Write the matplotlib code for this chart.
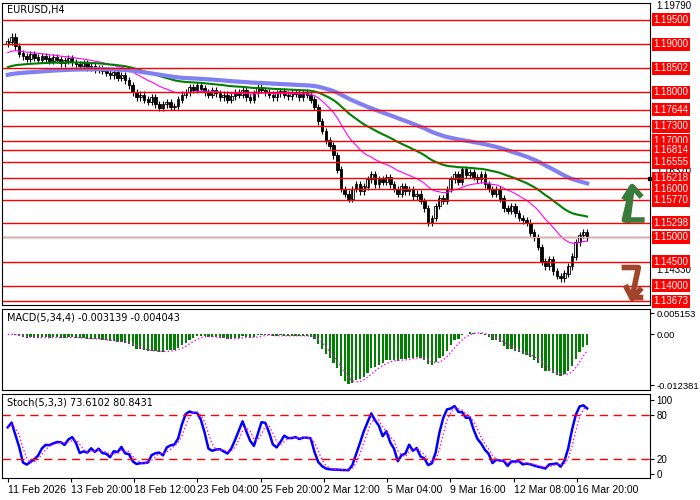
import matplotlib
matplotlib.use("Agg")
import matplotlib.pyplot as plt
import numpy as np
import pandas as pd

closes = [1.1905,1.1915,1.1895,1.1880,1.1875,1.1870,1.1878,1.1872,1.1868,1.1874,
1.1870,1.1865,1.1872,1.1868,1.1860,1.1866,1.1870,1.1862,1.1858,1.1855,
1.1860,1.1852,1.1855,1.1848,1.1850,1.1845,1.1840,1.1835,1.1842,1.1830,
1.1835,1.1825,1.1815,1.1800,1.1790,1.1795,1.1785,1.1780,1.1790,1.1775,
1.1768,1.1775,1.1780,1.1770,1.1772,1.1785,1.1795,1.1800,1.1810,1.1805,
1.1815,1.1808,1.1800,1.1795,1.1805,1.1798,1.1790,1.1795,1.1785,1.1792,
1.1800,1.1795,1.1805,1.1790,1.1785,1.1798,1.1810,1.1805,1.1800,1.1795,
1.1790,1.1798,1.1802,1.1795,1.1792,1.1800,1.1797,1.1790,1.1800,1.1795,
1.1785,1.1770,1.1740,1.1720,1.1700,1.1690,1.1670,1.1640,1.1600,1.1590,
1.1580,1.1600,1.1610,1.1595,1.1605,1.1620,1.1630,1.1610,1.1620,1.1615,
1.1625,1.1610,1.1600,1.1590,1.1605,1.1595,1.1600,1.1585,1.1590,1.1575,
1.1560,1.1530,1.1540,1.1565,1.1580,1.1575,1.1600,1.1620,1.1630,1.1615,
1.1640,1.1630,1.1635,1.1625,1.1620,1.1630,1.1610,1.1600,1.1590,1.1600,
1.1580,1.1560,1.1555,1.1565,1.1550,1.1540,1.1535,1.1530,1.1510,1.1500,
1.1480,1.1450,1.1440,1.1455,1.1430,1.1420,1.1415,1.1425,1.1440,1.1460,
1.1490,1.1505,1.1510,1.1500]
ma_seed = {"fast": 1.1880, "mid": 1.1850, "slow": 1.1835}
ma_span = {"fast": 21, "mid": 50, "slow": 100}
levels = [1.19500,1.19000,1.18502,1.18000,1.17644,1.17300,1.17000,1.16814,1.16555,
          1.16218,1.16000,1.15770,1.15298,1.15000,1.14500,1.14000,1.13673]
grey_ticks = [1.19790, 1.16370, 1.14330]
date_labels = ["11 Feb 2026","13 Feb 20:00","18 Feb 12:00","23 Feb 04:00","25 Feb 20:00",
               "2 Mar 12:00","5 Mar 04:00","9 Mar 16:00","12 Mar 08:00","16 Mar 20:00"]
macd_title = "MACD(5,34,4) -0.003139 -0.004043"
stoch_title = "Stoch(5,3,3) 73.6102 80.8431"

LF = 'Liberation Sans'
c = pd.Series(closes)
o = c.shift(1).fillna(c.iloc[0] - 0.0005)
hi = np.maximum(o, c) + 0.0007
lo = np.minimum(o, c) - 0.0007
n = len(c); x = np.arange(n)
XL = (-1.5, 169.5)
AXL, AXW = 0.003, 0.925

def ema(key):
    s = pd.concat([pd.Series([ma_seed[key]]), c], ignore_index=True)
    return s.ewm(span=ma_span[key], adjust=False).mean().values[1:]

fig = plt.figure(figsize=(7, 5), dpi=100)
ax = fig.add_axes([AXL, 0.39, AXW, 0.604])
ax.vlines(x, lo, hi, color='black', lw=0.8)
up = c >= o
ax.bar(x[up], (c - o)[up].abs() + 0.00005, bottom=o[up], width=0.7, color='white', edgecolor='black', lw=0.6)
ax.bar(x[~up], (c - o)[~up].abs() + 0.00005, bottom=c[~up], width=0.7, color='black', edgecolor='black', lw=0.6)
ax.plot(x, ema("fast"), color='magenta', lw=0.8)
ax.plot(x, ema("mid"), color='green', lw=1.5)
ax.plot(x, ema("slow"), color='#8080f0', lw=3)
for lv in levels:
    ax.axhline(lv, color='red', lw=1)
ax.axhline(1.1500, color='#bbbbbb', lw=0.8)
ax.set_xlim(*XL); ax.set_ylim(1.1360, 1.1985)
ax.set_xticks([]); ax.set_yticks([])
ax.text(0.008, 0.995, "EURUSD,H4", transform=ax.transAxes, va='top', fontsize=7)
for lv in grey_ticks:
    ax.annotate(f"{lv:.5f}", (1, lv), xycoords=('axes fraction', 'data'), xytext=(5, 0), family=LF,
                textcoords='offset points', va='center', fontsize=7, zorder=1, annotation_clip=False)
for lv in levels:
    ax.annotate(f"{lv:.5f}", (1, lv), xycoords=('axes fraction', 'data'), xytext=(3, 0), family=LF,
                textcoords='offset points', va='center', fontsize=7, color='white', zorder=5,
                bbox=dict(boxstyle='square,pad=0.15', fc='red', ec='none'), annotation_clip=False)
ax.plot([1.0, 1.01], [0.417, 0.417], transform=ax.transAxes, color='black', lw=3, clip_on=False)

# arrows
g = '#3a7a3a'; b = '#a0442a'
fig.lines.append(plt.Line2D([0.897, 0.903, 0.892, 0.917], [0.56, 0.625, 0.56, 0.56], color=g, lw=4, transform=fig.transFigure))
fig.lines.append(plt.Line2D([0.893, 0.903, 0.914], [0.605, 0.627, 0.61], color=g, lw=4, transform=fig.transFigure))
fig.lines.append(plt.Line2D([0.892, 0.912, 0.903, 0.915], [0.465, 0.465, 0.405, 0.405], color=b, lw=4, transform=fig.transFigure))
fig.lines.append(plt.Line2D([0.895, 0.903, 0.914], [0.425, 0.403, 0.42], color=b, lw=4, transform=fig.transFigure))

# MACD
macd = c.ewm(span=5).mean() - c.ewm(span=34).mean()
sig = macd.rolling(4, min_periods=1).mean()
axm = fig.add_axes([AXL, 0.22, AXW, 0.162])
axm.bar(x, macd, width=0.6, color='green')
axm.plot(x, sig, color='magenta', ls=':', lw=1)
axm.set_xlim(*XL); axm.set_ylim(-0.0135, 0.0062)
axm.set_xticks([]); axm.yaxis.tick_right()
axm.set_yticks([0.005153, 0.0, -0.012381])
axm.set_yticklabels(["0.005153", "0.00", "-0.012381"], fontsize=6.8, family=LF)
axm.tick_params(axis='y', length=3, pad=2)
axm.text(0.008, 0.96, macd_title, transform=axm.transAxes, va='top', fontsize=7)

# Stoch
hh = pd.Series(hi).rolling(5, min_periods=1).max(); ll = pd.Series(lo).rolling(5, min_periods=1).min()
k = (100 * (c - ll) / (hh - ll)).rolling(3, min_periods=1).mean()
d = k.rolling(3, min_periods=1).mean()
axs = fig.add_axes([AXL, 0.044, AXW, 0.168])
axs.plot(x, k, color='blue', lw=1.8)
axs.plot(x, d, color='magenta', ls=':', lw=1)
for lv in (80, 20):
    axs.axhline(lv, color='red', ls=(0, (6, 4)), lw=1)
axs.set_xlim(*XL); axs.set_ylim(-5, 108)
axs.yaxis.tick_right(); axs.set_yticks([100, 80, 20, 0])
axs.set_yticklabels(["100", "80", "20", "0"], fontsize=7, family=LF)
axs.tick_params(axis='y', length=3, pad=2)
axs.text(0.008, 0.96, stoch_title, transform=axs.transAxes, va='top', fontsize=7)
axs.set_xticks(np.arange(0, 154, 16.7)[:len(date_labels)])
axs.set_xticklabels(date_labels, fontsize=7.5, ha='left', family=LF)
axs.tick_params(axis='x', length=3, pad=2)
fig.savefig("out.png", dpi=100, facecolor='white')
